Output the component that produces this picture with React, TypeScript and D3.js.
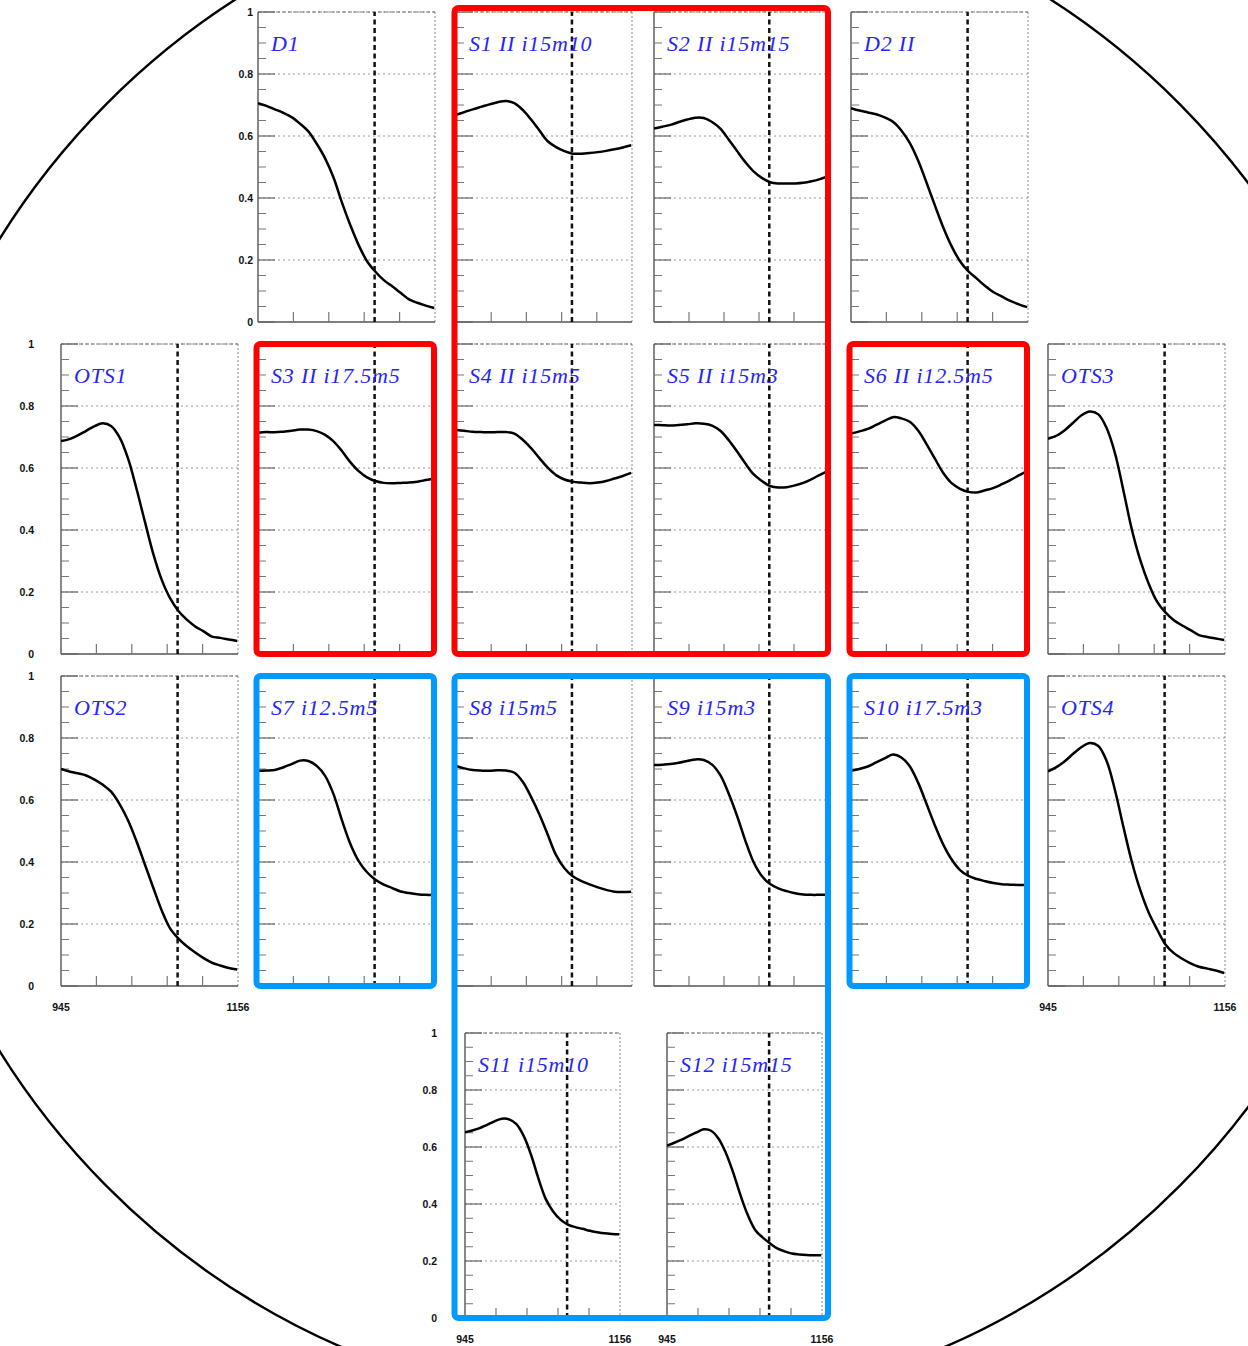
import React from "react";
import * as d3 from "d3";

// Sampling grid of the transmission curves (nm)
const WAVELENGTH_NM = [945, 955, 965, 975, 985, 995, 1005, 1015, 1025, 1035, 1045, 1055, 1065, 1075, 1085, 1095, 1105, 1115, 1125, 1135, 1145, 1155];

// Transmission of each sample, one value per wavelength above
const D1 = [0.706, 0.697, 0.686, 0.675, 0.661, 0.64, 0.615, 0.575, 0.528, 0.466, 0.386, 0.313, 0.248, 0.196, 0.162, 0.135, 0.115, 0.094, 0.073, 0.062, 0.053, 0.045];
const S1 = [0.668, 0.677, 0.686, 0.694, 0.702, 0.709, 0.713, 0.706, 0.684, 0.653, 0.618, 0.583, 0.564, 0.551, 0.543, 0.543, 0.545, 0.548, 0.552, 0.557, 0.563, 0.57];
const S2 = [0.624, 0.63, 0.636, 0.645, 0.653, 0.659, 0.658, 0.645, 0.624, 0.589, 0.552, 0.516, 0.486, 0.465, 0.451, 0.447, 0.447, 0.447, 0.449, 0.454, 0.461, 0.47];
const D2 = [0.69, 0.682, 0.676, 0.67, 0.66, 0.646, 0.618, 0.578, 0.521, 0.45, 0.376, 0.305, 0.244, 0.196, 0.163, 0.14, 0.116, 0.096, 0.082, 0.068, 0.057, 0.048];
const OTS1 = [0.687, 0.693, 0.705, 0.72, 0.735, 0.744, 0.735, 0.698, 0.63, 0.533, 0.427, 0.323, 0.24, 0.18, 0.139, 0.111, 0.089, 0.073, 0.056, 0.052, 0.047, 0.042];
const S3 = [0.714, 0.716, 0.715, 0.717, 0.72, 0.724, 0.724, 0.719, 0.707, 0.686, 0.655, 0.619, 0.59, 0.57, 0.558, 0.552, 0.551, 0.552, 0.553, 0.556, 0.561, 0.566];
const S4 = [0.723, 0.72, 0.717, 0.716, 0.715, 0.716, 0.716, 0.711, 0.691, 0.664, 0.632, 0.601, 0.577, 0.563, 0.556, 0.553, 0.551, 0.553, 0.558, 0.566, 0.574, 0.584];
const S5 = [0.739, 0.738, 0.737, 0.739, 0.741, 0.744, 0.743, 0.737, 0.72, 0.69, 0.654, 0.615, 0.58, 0.558, 0.542, 0.537, 0.538, 0.544, 0.552, 0.564, 0.578, 0.591];
const S6 = [0.711, 0.718, 0.726, 0.739, 0.752, 0.764, 0.76, 0.749, 0.721, 0.677, 0.63, 0.584, 0.551, 0.533, 0.523, 0.521, 0.528, 0.536, 0.548, 0.561, 0.576, 0.59];
const OTS3 = [0.694, 0.704, 0.722, 0.746, 0.77, 0.782, 0.773, 0.728, 0.646, 0.526, 0.401, 0.303, 0.227, 0.169, 0.134, 0.109, 0.092, 0.077, 0.061, 0.055, 0.05, 0.045];
const OTS2 = [0.7, 0.692, 0.686, 0.679, 0.666, 0.649, 0.626, 0.586, 0.534, 0.467, 0.392, 0.317, 0.244, 0.186, 0.153, 0.128, 0.108, 0.09, 0.075, 0.066, 0.058, 0.053];
const S7 = [0.694, 0.695, 0.697, 0.705, 0.716, 0.727, 0.726, 0.71, 0.678, 0.619, 0.535, 0.459, 0.403, 0.367, 0.343, 0.327, 0.316, 0.305, 0.3, 0.296, 0.294, 0.294];
const S8 = [0.71, 0.702, 0.697, 0.695, 0.694, 0.696, 0.695, 0.688, 0.659, 0.61, 0.553, 0.488, 0.422, 0.38, 0.354, 0.339, 0.328, 0.318, 0.31, 0.304, 0.303, 0.304];
const S9 = [0.713, 0.714, 0.716, 0.72, 0.726, 0.731, 0.729, 0.714, 0.68, 0.621, 0.55, 0.47, 0.4, 0.355, 0.329, 0.315, 0.306, 0.299, 0.295, 0.294, 0.294, 0.294];
const S10 = [0.694, 0.7, 0.708, 0.721, 0.734, 0.747, 0.737, 0.709, 0.656, 0.588, 0.518, 0.456, 0.408, 0.374, 0.355, 0.345, 0.338, 0.332, 0.328, 0.327, 0.326, 0.326];
const OTS4 = [0.692, 0.706, 0.725, 0.749, 0.771, 0.784, 0.774, 0.725, 0.63, 0.512, 0.4, 0.309, 0.237, 0.183, 0.134, 0.106, 0.088, 0.073, 0.062, 0.056, 0.05, 0.042];
const S11 = [0.652, 0.658, 0.666, 0.678, 0.69, 0.699, 0.697, 0.68, 0.638, 0.572, 0.489, 0.417, 0.374, 0.345, 0.328, 0.319, 0.313, 0.306, 0.301, 0.297, 0.295, 0.294];
const S12 = [0.605, 0.615, 0.626, 0.639, 0.651, 0.662, 0.657, 0.63, 0.58, 0.511, 0.431, 0.361, 0.309, 0.283, 0.262, 0.244, 0.234, 0.226, 0.223, 0.221, 0.22, 0.22];

const PANEL_KEYS = ["D1", "S1", "S2", "D2", "OTS1", "S3", "S4", "S5", "S6", "OTS3", "OTS2", "S7", "S8", "S9", "S10", "OTS4", "S11", "S12"];
const PANEL_TITLES = ["D1", "S1 II i15m10", "S2 II i15m15", "D2 II", "OTS1", "S3 II i17.5m5", "S4 II i15m5", "S5 II i15m3", "S6 II i12.5m5", "OTS3", "OTS2", "S7 i12.5m5", "S8 i15m5", "S9 i15m3", "S10 i17.5m3", "OTS4", "S11 i15m10", "S12 i15m15"];
const PANEL_SERIES = [D1, S1, S2, D2, OTS1, S3, S4, S5, S6, OTS3, OTS2, S7, S8, S9, S10, OTS4, S11, S12];

// Axis definitions
const X_DOMAIN = [945, 1156];
const X_TICKS = [987.2, 1029.4, 1071.6, 1113.8];
const X_EDGE_LABELS = ["945", "1156"];
const Y_MAJOR = [0, 0.2, 0.4, 0.6, 0.8, 1];
const Y_MAJOR_LABELS = ["0", "0.2", "0.4", "0.6", "0.8", "1"];
const Y_MINOR = [0.05, 0.1, 0.15, 0.25, 0.3, 0.35, 0.45, 0.5, 0.55, 0.65, 0.7, 0.75, 0.85, 0.9, 0.95];
const CUT_NM = 1084;

// Highlighted groups
const RED_GROUPS = [["S1", "S2", "S4", "S5"], ["S3"], ["S6"]];
const BLUE_GROUPS = [["S7"], ["S8", "S9", "S11", "S12"], ["S10"]];

// Page layout of the pads
const COL_X = [61, 258, 456, 654, 851, 1048];
const ROW_Y = [12, 344, 676];
const PAD_W = 177;
const PAD_H = 310;

type Frame = { x: number; y: number; w: number; h: number; yLabels?: number; xLabels?: boolean };

const FRAMES: Record<string, Frame> = {
  D1: { x: COL_X[1], y: ROW_Y[0], w: PAD_W, h: PAD_H, yLabels: 5 },
  S1: { x: COL_X[2], y: ROW_Y[0], w: PAD_W - 1, h: PAD_H },
  S2: { x: COL_X[3], y: ROW_Y[0], w: PAD_W - 2, h: PAD_H },
  D2: { x: COL_X[4], y: ROW_Y[0], w: PAD_W, h: PAD_H },
  OTS1: { x: COL_X[0], y: ROW_Y[1], w: PAD_W, h: PAD_H, yLabels: 27 },
  S3: { x: COL_X[1], y: ROW_Y[1], w: PAD_W, h: PAD_H },
  S4: { x: COL_X[2], y: ROW_Y[1], w: PAD_W - 1, h: PAD_H },
  S5: { x: COL_X[3], y: ROW_Y[1], w: PAD_W - 2, h: PAD_H },
  S6: { x: COL_X[4], y: ROW_Y[1], w: PAD_W, h: PAD_H },
  OTS3: { x: COL_X[5], y: ROW_Y[1], w: PAD_W, h: PAD_H },
  OTS2: { x: COL_X[0], y: ROW_Y[2], w: PAD_W, h: PAD_H, yLabels: 27, xLabels: true },
  S7: { x: COL_X[1], y: ROW_Y[2], w: PAD_W, h: PAD_H },
  S8: { x: COL_X[2], y: ROW_Y[2], w: PAD_W - 1, h: PAD_H },
  S9: { x: COL_X[3], y: ROW_Y[2], w: PAD_W - 2, h: PAD_H },
  S10: { x: COL_X[4], y: ROW_Y[2], w: PAD_W, h: PAD_H },
  OTS4: { x: COL_X[5], y: ROW_Y[2], w: PAD_W, h: PAD_H, xLabels: true },
  S11: { x: 465, y: 1033, w: 155, h: 285, yLabels: 28, xLabels: true },
  S12: { x: 667, y: 1033, w: 155, h: 285, xLabels: true },
};

const TITLE_COLOR = "#2424ff";
const LABEL_FONT = "'Liberation Sans', Arial, sans-serif";

function Pad({ k, title, values }: { k: string; title: string; values: number[] }) {
  const f = FRAMES[k];
  const x = d3.scaleLinear().domain(X_DOMAIN).range([f.x, f.x + f.w]);
  const y = d3.scaleLinear().domain([0, 1]).range([f.y + f.h, f.y]);
  const path = d3
    .line<number>()
    .x((_, i) => x(WAVELENGTH_NM[i]))
    .y((d) => y(d))
    .curve(d3.curveCatmullRom.alpha(0.5))(values) as string;
  const clipId = `clip-${k}`;
  return (
    <g>
      <defs>
        <clipPath id={clipId}>
          <rect x={f.x} y={f.y} width={f.w} height={f.h} />
        </clipPath>
      </defs>
      {/* horizontal grid */}
      {Y_MAJOR.filter((v) => v > 0).map((v) => (
        <line key={`g${v}`} x1={f.x} x2={f.x + f.w} y1={y(v)} y2={y(v)} stroke="#9a9a9a" strokeWidth={1} strokeDasharray="2,3" />
      ))}
      {/* frame */}
      <line x1={f.x + f.w} x2={f.x + f.w} y1={f.y} y2={f.y + f.h} stroke="#8a8a8a" strokeWidth={1} strokeDasharray="2,2" />
      <line x1={f.x} x2={f.x + f.w} y1={f.y} y2={f.y} stroke="#777" strokeWidth={1.2} strokeDasharray="4,2" />
      <line x1={f.x} x2={f.x} y1={f.y} y2={f.y + f.h} stroke="#555" strokeWidth={1.4} />
      <line x1={f.x} x2={f.x + f.w} y1={f.y + f.h} y2={f.y + f.h} stroke="#555" strokeWidth={1.6} />
      {/* y ticks */}
      {Y_MAJOR.map((v) => (
        <line key={`M${v}`} x1={f.x} x2={f.x + 17} y1={y(v)} y2={y(v)} stroke="#666" strokeWidth={1.2} />
      ))}
      {Y_MINOR.map((v) => (
        <line key={`m${v}`} x1={f.x} x2={f.x + 8} y1={y(v)} y2={y(v)} stroke="#777" strokeWidth={1} />
      ))}
      {/* x ticks */}
      {X_TICKS.map((t) => (
        <line key={`t${t}`} x1={x(t)} x2={x(t)} y1={f.y + f.h} y2={f.y + f.h - 10} stroke="#777" strokeWidth={1.2} />
      ))}
      {/* cut wavelength */}
      <line x1={x(CUT_NM)} x2={x(CUT_NM)} y1={f.y + f.h} y2={f.y} stroke="#111" strokeWidth={2.5} strokeDasharray="5,3.5" />
      {/* curve */}
      <path d={path} fill="none" stroke="#000" strokeWidth={2.5} strokeLinejoin="round" clipPath={`url(#${clipId})`} />
      {/* title */}
      <text
        x={f.x + 13}
        y={f.y + 39}
        fill={TITLE_COLOR}
        fontFamily="'Liberation Serif', 'Times New Roman', serif"
        fontStyle="italic"
        fontSize={22}
        letterSpacing={0.8}
      >
        {title}
      </text>
      {/* y labels */}
      {f.yLabels !== undefined &&
        Y_MAJOR.map((v, i) => (
          <text
            key={`yl${v}`}
            x={f.x - f.yLabels!}
            y={y(v)}
            dy="0.36em"
            textAnchor="end"
            fontFamily={LABEL_FONT}
            fontWeight="bold"
            fontSize={10.5}
            fill="#111"
          >
            {Y_MAJOR_LABELS[i]}
          </text>
        ))}
      {/* x labels */}
      {f.xLabels &&
        X_EDGE_LABELS.map((lab, i) => (
          <text
            key={`xl${lab}`}
            x={i === 0 ? x(X_DOMAIN[0]) : x(X_DOMAIN[1])}
            y={f.y + f.h + 25}
            textAnchor="middle"
            fontFamily={LABEL_FONT}
            fontWeight="bold"
            fontSize={10.5}
            fill="#111"
          >
            {lab}
          </text>
        ))}
    </g>
  );
}

function groupRect(keys: string[]) {
  const fs = keys.map((k) => FRAMES[k]);
  const x0 = d3.min(fs, (f) => f.x)! - 1.5;
  const x1 = d3.max(fs, (f) => f.x + f.w)! - 1;
  const y0 = d3.min(fs, (f) => f.y)! - (d3.min(fs, (f) => f.y)! < 100 ? 4 : 0);
  const y1 = d3.max(fs, (f) => f.y + f.h)!;
  return { x: x0, y: y0, w: x1 - x0, h: y1 - y0 };
}

export default function App() {
  const W = 1248;
  const H = 1346;
  return (
    <svg width={W} height={H} style={{ position: "absolute", left: 0, top: 0, background: "#fff" }}>
      <rect x={0} y={0} width={W} height={H} fill="#fff" />
      <ellipse cx={643} cy={645} rx={759} ry={765} fill="none" stroke="#000" strokeWidth={2.4} />
      {PANEL_KEYS.map((k, i) => (
        <Pad key={k} k={k} title={PANEL_TITLES[i]} values={PANEL_SERIES[i]} />
      ))}
      {RED_GROUPS.map((g, i) => {
        const r = groupRect(g);
        return <rect key={`r${i}`} x={r.x} y={r.y} width={r.w} height={r.h} rx={4} fill="none" stroke="#ff0000" strokeWidth={6} />;
      })}
      {BLUE_GROUPS.map((g, i) => {
        const r = groupRect(g);
        return <rect key={`b${i}`} x={r.x} y={r.y} width={r.w} height={r.h} rx={4} fill="none" stroke="#0099ff" strokeWidth={6} />;
      })}
    </svg>
  );
}
